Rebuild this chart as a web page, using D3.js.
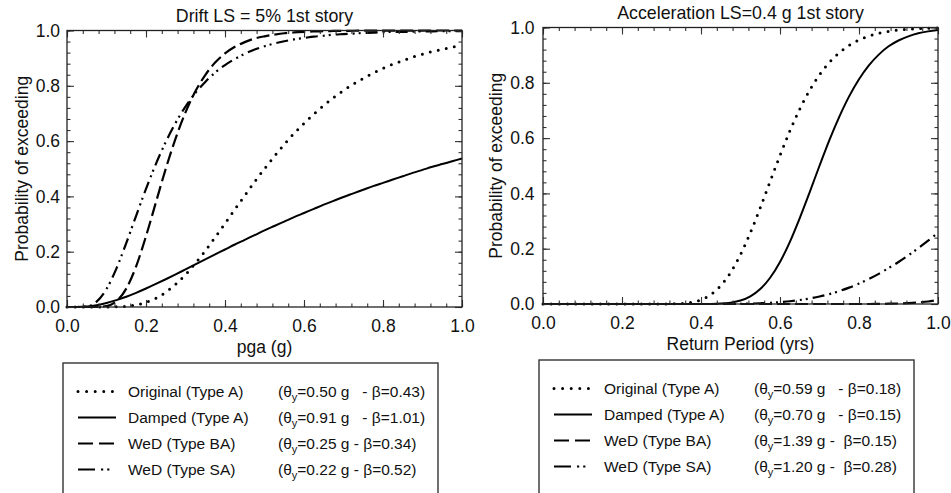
<!DOCTYPE html>
<html>
<head>
<meta charset="utf-8">
<script src="https://cdn.jsdelivr.net/npm/d3@7"></script>
<style>
  body { margin: 0; background: #fff; }
  svg text { font-family: "Liberation Sans", Arial, Helvetica, sans-serif; fill: #111; }
</style>
</head>
<body>
<div id="chart"></div>
<script>
var xGrid = [0, 0.025, 0.05, 0.075, 0.1, 0.125, 0.15, 0.175, 0.2, 0.225, 0.25, 0.275, 0.3, 0.325, 0.35, 0.375,
  0.4, 0.425, 0.45, 0.475, 0.5, 0.525, 0.55, 0.575, 0.6, 0.625, 0.65, 0.675, 0.7, 0.725, 0.75, 0.775,
  0.8, 0.825, 0.85, 0.875, 0.9, 0.925, 0.95, 0.975, 1.0];

// Left panel : Drift LS = 5%
var driftOriginal = [0, 0, 0, 0, 0.0001, 0.0006, 0.0026, 0.0073, 0.0166, 0.0317, 0.0535, 0.0822, 0.117, 0.158, 0.203, 0.252,
  0.302, 0.353, 0.403, 0.453, 0.5, 0.545, 0.588, 0.628, 0.664, 0.698, 0.729, 0.757, 0.783, 0.806, 0.827, 0.846,
  0.863, 0.878, 0.891, 0.904, 0.914, 0.924, 0.932, 0.940, 0.947];
var driftDamped = [0, 0.0002, 0.002, 0.0067, 0.0144, 0.0247, 0.0371, 0.0513, 0.0668, 0.0833, 0.1004, 0.118, 0.136, 0.154, 0.172, 0.190,
  0.208, 0.226, 0.243, 0.260, 0.277, 0.293, 0.309, 0.325, 0.340, 0.355, 0.370, 0.384, 0.398, 0.411, 0.424, 0.437,
  0.449, 0.461, 0.473, 0.485, 0.496, 0.507, 0.517, 0.527, 0.537];
var driftWedBA = [0, 0, 0, 0.0002, 0.0035, 0.0207, 0.0665, 0.147, 0.256, 0.378, 0.5, 0.610, 0.704, 0.780, 0.839, 0.884,
  0.917, 0.941, 0.958, 0.971, 0.979, 0.985, 0.990, 0.993, 0.995, 0.9965, 0.9975, 0.9983, 0.9988, 0.9991, 0.9994, 0.9996,
  0.9997, 0.9998, 0.9998, 0.9999, 0.9999, 1, 1, 1, 1];
var driftWedSA = [0, 0, 0.0022, 0.0192, 0.0648, 0.139, 0.231, 0.330, 0.427, 0.517, 0.597, 0.666, 0.725, 0.774, 0.814, 0.848,
  0.875, 0.897, 0.916, 0.931, 0.943, 0.953, 0.961, 0.968, 0.973, 0.978, 0.981, 0.985, 0.987, 0.989, 0.991, 0.992,
  0.994, 0.995, 0.995, 0.996, 0.997, 0.997, 0.998, 0.998, 0.998];

// Right panel : Acceleration LS = 0.4 g
var accOriginal = [0, 0, 0, 0, 0, 0, 0, 0, 0, 0, 0, 0, 0.0001, 0.0005, 0.0019, 0.0059,
  0.0154, 0.0342, 0.0662, 0.114, 0.179, 0.258, 0.348, 0.443, 0.537, 0.626, 0.705, 0.773, 0.829, 0.874, 0.909, 0.935,
  0.955, 0.969, 0.979, 0.986, 0.991, 0.994, 0.996, 0.997, 0.998];
var accDamped = [0, 0, 0, 0, 0, 0, 0, 0, 0, 0, 0, 0, 0, 0, 0, 0,
  0.0001, 0.0004, 0.0016, 0.0049, 0.0124, 0.0276, 0.0539, 0.0949, 0.152, 0.225, 0.311, 0.404, 0.5, 0.593, 0.677, 0.751,
  0.813, 0.863, 0.902, 0.932, 0.953, 0.968, 0.979, 0.986, 0.991];
var accWedBA = [0, 0, 0, 0, 0, 0, 0, 0, 0, 0, 0, 0, 0, 0, 0, 0,
  0, 0, 0, 0, 0, 0, 0, 0, 0, 0, 0, 0, 0, 0, 0, 0,
  0, 0, 0.0005, 0.001, 0.0019, 0.0033, 0.0056, 0.009, 0.015];
var accWedSA = [0, 0, 0, 0, 0, 0, 0, 0, 0, 0, 0, 0, 0, 0, 0, 0,
  0, 0, 0.0002, 0.0005, 0.0009, 0.0016, 0.0027, 0.0043, 0.0067, 0.0099, 0.0143, 0.020, 0.0271, 0.0359, 0.0466, 0.0592,
  0.0738, 0.0904, 0.109, 0.130, 0.152, 0.176, 0.202, 0.229, 0.2575];

// legend texts
var seriesNames = ["Original (Type A)", "Damped (Type A)", "WeD (Type BA)", "WeD (Type SA)"];
var driftTheta = ["0.50", "0.91", "0.25", "0.22"];
var driftBeta = ["0.43", "1.01", "0.34", "0.52"];
var driftSep = ["   - ", "   - ", " - ", " - "];
var accTheta = ["0.59", "0.70", "1.39", "1.20"];
var accBeta = ["0.18", "0.15", "0.15", "0.28"];
var accSep = ["   - ", "   - ", " -  ", " -  "];

// tick labels
var majorTicks = [0, 0.2, 0.4, 0.6, 0.8, 1.0];
var minorTicks = d3.range(0, 1.0001, 0.04);

// line styles, in legend order
var styles = [
  { dash: "0,8.2", width: 3, cap: "round" },
  { dash: null, width: 2, cap: "butt" },
  { dash: "13,5", width: 2.2, cap: "butt" },
  { dash: "12,5,2,4,2,5", width: 2.2, cap: "butt" }
];
var legendDash = ["0,8.6", null, "15,6", "17,6,2.2,4,2.2,20"];

var axisFont = 17.5;
var legendFont = 15.5;

var svgWidth = 951;
var svgHeight = 493;

var svg = d3.select("#chart")
  .append("svg")
  .attr("width", svgWidth)
  .attr("height", svgHeight);

function drawPanel(p) {
  var width = 395;
  var height = 276.5;

  var chartGroup = svg.append("g")
    .attr("transform", `translate(${p.left}, ${p.top})`);

  var xScale = d3.scaleLinear().domain([0, 1]).range([0, width]);
  var yScale = d3.scaleLinear().domain([0, 1]).range([height, 0]);

  // curves
  var line = d3.line()
    .x(d => xScale(d[0]))
    .y(d => yScale(d[1]))
    .curve(d3.curveMonotoneX);

  p.series.forEach(function(values, i) {
    var st = styles[i];
    chartGroup.append("path")
      .datum(xGrid.map((v, j) => [v, values[j]]))
      .attr("d", line)
      .attr("fill", "none")
      .attr("stroke", "#000")
      .attr("stroke-width", st.width)
      .attr("stroke-linecap", st.cap)
      .attr("stroke-dasharray", st.dash);
  });

  // axes with inward ticks on all four sides
  var fmt = d3.format(".1f");
  var tickColor = "#333";

  function styleAxis(sel) {
    sel.select(".domain").remove();
    sel.selectAll("line").attr("stroke", tickColor).attr("stroke-width", 1.1);
    sel.selectAll("text")
      .attr("font-family", "'Liberation Sans', Arial, sans-serif")
      .attr("font-size", axisFont)
      .attr("fill", "#111");
  }

  chartGroup.append("g")
    .attr("transform", `translate(0, ${height})`)
    .call(d3.axisBottom(xScale).tickValues(majorTicks).tickFormat(fmt).tickSize(-7).tickPadding(12.5))
    .call(styleAxis);
  chartGroup.append("g")
    .attr("transform", `translate(0, ${height})`)
    .call(d3.axisBottom(xScale).tickValues(minorTicks).tickFormat("").tickSize(-3.5))
    .call(styleAxis);
  chartGroup.append("g")
    .call(d3.axisTop(xScale).tickValues(majorTicks).tickFormat("").tickSize(-7))
    .call(styleAxis);
  chartGroup.append("g")
    .call(d3.axisTop(xScale).tickValues(minorTicks).tickFormat("").tickSize(-3.5))
    .call(styleAxis);

  chartGroup.append("g")
    .call(d3.axisLeft(yScale).tickValues(majorTicks).tickFormat(fmt).tickSize(-7).tickPadding(p.yPad))
    .call(styleAxis);
  chartGroup.append("g")
    .call(d3.axisLeft(yScale).tickValues(minorTicks).tickFormat("").tickSize(-3.5))
    .call(styleAxis);
  chartGroup.append("g")
    .attr("transform", `translate(${width}, 0)`)
    .call(d3.axisRight(yScale).tickValues(majorTicks).tickFormat("").tickSize(-7))
    .call(styleAxis);
  chartGroup.append("g")
    .attr("transform", `translate(${width}, 0)`)
    .call(d3.axisRight(yScale).tickValues(minorTicks).tickFormat("").tickSize(-3.5))
    .call(styleAxis);

  // frame
  chartGroup.append("rect")
    .attr("width", width)
    .attr("height", height)
    .attr("fill", "none")
    .attr("stroke", "#222")
    .attr("stroke-width", 1.3);

  // title and axis labels
  chartGroup.append("text")
    .attr("x", width / 2)
    .attr("y", -8.5)
    .attr("text-anchor", "middle")
    .style("font-size", "17.8px")
    .text(p.title);

  chartGroup.append("text")
    .attr("x", width / 2)
    .attr("y", height + 45.5)
    .attr("text-anchor", "middle")
    .style("font-size", axisFont + "px")
    .text(p.xLabel);

  chartGroup.append("text")
    .attr("transform", "rotate(-90)")
    .attr("x", -height / 2)
    .attr("y", p.yLabelPos)
    .attr("text-anchor", "middle")
    .style("font-size", axisFont + "px")
    .text("Probability of exceeding");

  // legend box (runs past the bottom edge of the picture)
  var legend = svg.append("g")
    .attr("transform", `translate(${p.legendX}, ${p.legendY})`);

  legend.append("rect")
    .attr("width", 375)
    .attr("height", 160)
    .attr("fill", "#fff")
    .attr("stroke", "#333")
    .attr("stroke-width", 1.4);

  seriesNames.forEach(function(name, i) {
    var base = 34 + i * 26;
    legend.append("line")
      .attr("x1", 15)
      .attr("x2", 53)
      .attr("y1", base - 5.5)
      .attr("y2", base - 5.5)
      .attr("stroke", "#000")
      .attr("stroke-width", styles[i].width)
      .attr("stroke-linecap", styles[i].cap)
      .attr("stroke-dasharray", legendDash[i]);

    legend.append("text")
      .attr("x", 65)
      .attr("y", base)
      .style("font-size", legendFont + "px")
      .text(name);

    var param = legend.append("text")
      .attr("x", 215)
      .attr("y", base)
      .style("font-size", legendFont + "px")
      .style("white-space", "pre");
    param.append("tspan").text("(θ");
    param.append("tspan").attr("dy", 4).style("font-size", "11px").text("y");
    param.append("tspan").attr("dy", -4).text(`=${p.theta[i]} g${p.sep[i]}β=${p.beta[i]})`);
  });
}

drawPanel({
  left: 67, top: 30.5,
  title: "Drift LS = 5% 1st story",
  xLabel: "pga (g)",
  yPad: 7, yLabelPos: -39,
  series: [driftOriginal, driftDamped, driftWedBA, driftWedSA],
  theta: driftTheta, beta: driftBeta, sep: driftSep,
  legendX: 63, legendY: 363
});

drawPanel({
  left: 543, top: 27.5,
  title: "Acceleration LS=0.4 g 1st story",
  xLabel: "Return Period (yrs)",
  yPad: 8.5, yLabelPos: -41.5,
  series: [accOriginal, accDamped, accWedBA, accWedSA],
  theta: accTheta, beta: accBeta, sep: accSep,
  legendX: 539, legendY: 360
});
</script>
</body>
</html>
